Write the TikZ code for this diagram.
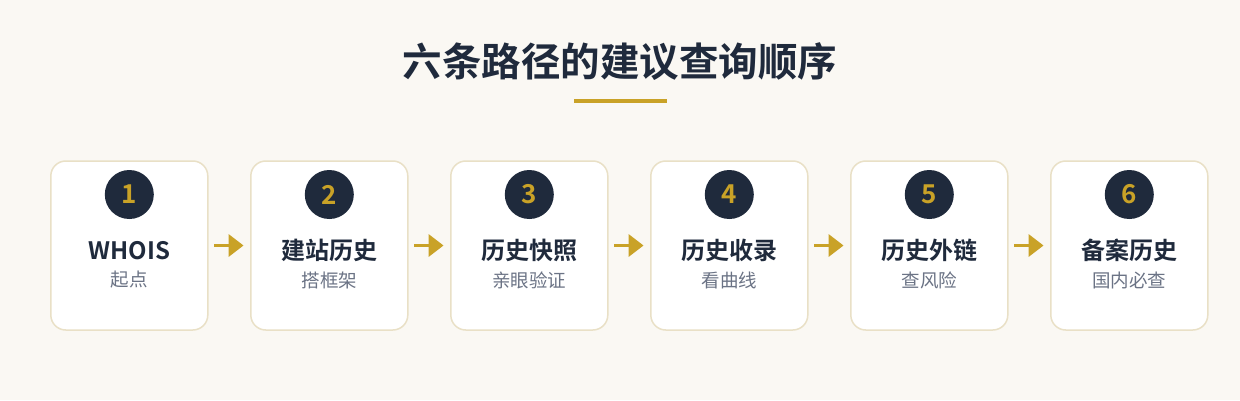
\documentclass[tikz,border=0pt]{standalone}
\usepackage{fontspec}
\setmainfont{Noto Sans CJK SC}
\newfontfamily\cjkbold{Noto Sans CJK SC Bold}
\newfontfamily\cjkreg{Noto Sans CJK SC}
\usetikzlibrary{arrows.meta}
\definecolor{bgc}{HTML}{FAF8F3}
\definecolor{navy}{HTML}{1F2A3C}
\definecolor{gold}{HTML}{C9A227}
\definecolor{boxborder}{HTML}{E9E0C6}
\definecolor{subgray}{HTML}{6B7385}
\tikzset{
  stepbox/.style={draw=boxborder, line width=1.5pt, fill=white, rounded corners=15pt,
    minimum width=157pt, minimum height=169pt, inner sep=0pt},
  numcircle/.style={circle, fill=navy, minimum size=49pt, inner sep=0pt,
    text=gold, font=\cjkbold\fontsize{26pt}{26pt}\selectfont},
  steptitle/.style={text=navy, inner sep=0pt, font=\cjkbold\fontsize{24pt}{24pt}\selectfont},
  stepsub/.style={text=subgray, inner sep=0pt, font=\cjkreg\fontsize{18.5pt}{18.5pt}\selectfont},
  flowarrow/.style={draw=gold, line width=3.5pt, -{Triangle[length=15pt,width=22pt]}},
}
\begin{document}
\begin{tikzpicture}[x=1pt,y=-1pt]
\fill[bgc] (0,0) rectangle (1240,400);
\useasboundingbox (0,0) rectangle (1240,400);
\node[text=navy, font=\cjkbold\fontsize{39.5pt}{40pt}\selectfont, inner sep=0pt] (title) at (620,62) {六条路径的建议查询顺序};
\fill[gold] (574,99) rectangle (667,103);
\foreach \i/\t/\s in {1/WHOIS/起点, 2/建站历史/搭框架, 3/历史快照/亲眼验证, 4/历史收录/看曲线, 5/历史外链/查风险, 6/备案历史/国内必查}{
  \pgfmathsetmacro{\cx}{129.3+200*(\i-1)}
  \node[stepbox] (box\i) at (\cx,245.5) {};
  \node[numcircle] (num\i) at (\cx,194.5) {\i};
  \node[steptitle] (t\i) at (\cx,250.5) {\t};
  \node[stepsub] (s\i) at (\cx,280) {\s};
}
\foreach \i [evaluate=\i as \j using int(\i+1)] in {1,...,5}{
  \coordinate (a\i) at ([xshift=5.5pt]box\i.east);
  \coordinate (b\i) at ([xshift=-6.5pt]box\j.west);
  \draw[flowarrow] (a\i) -- (b\i);
}
\end{tikzpicture}
\end{document}
